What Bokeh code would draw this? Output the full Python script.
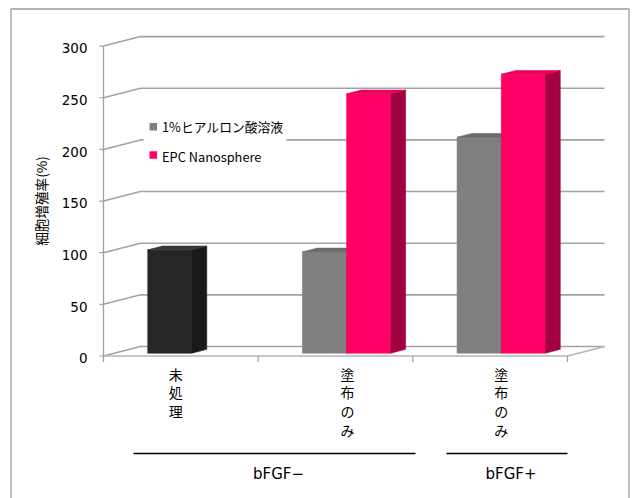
import math
from bokeh.plotting import figure
from bokeh.core.properties import value
from bokeh.embed import file_html
from bokeh.resources import INLINE

# ---------------- data ----------------
categories = ["未処理", "塗布のみ", "塗布のみ"]
groups = ["bFGF−", "bFGF+"]
series_names = ["1%ヒアルロン酸溶液", "EPC Nanosphere"]
hyaluronic = [100, 98, 209]
nanosphere = [None, 251, 270]
y_ticks = [0, 50, 100, 150, 200, 250, 300]
y_title = "細胞増殖率(%)"

# ---------------- styles ----------------
gray_front = ["#262626", "#808080", "#808080"]
gray_side = ["#1a1a1a", "#5c5c5c", "#5c5c5c"]
gray_top = ["#353535", "#6c6c6c", "#6c6c6c"]
pink_front = "#ff0066"
pink_side = "#a3003f"
pink_top = "#e8005d"
grid_color = "#a3a3a3"
JP = value("Noto Sans CJK JP")
LAT = value("DejaVu Sans")

# ---------------- layout (page pixels) ----------------
FIG_W, FIG_H = 634, 498
PAGE_X0, PAGE_Y0 = 0, 0
CAT_PX = 154.67          # px per category
VAL_PX = 1.033           # px per value unit
ORIGIN_X, ORIGIN_Y = 103.0, 355.5   # page px of (category 0, value 0)


def X(px):
    return (px - ORIGIN_X) / CAT_PX


def Y(py):
    return (ORIGIN_Y - py) / VAL_PX


DX = 37 / CAT_PX        # depth offset (category units)
DY = 9.5 / VAL_PX       # depth offset (value units)
F0, F1 = 0.3, 0.7       # bar depth span
BW = 1 / 3.5            # bar width (gap width 150%)
NCAT = len(categories)

p = figure(width=FIG_W, height=FIG_H,
           x_range=(X(PAGE_X0), X(PAGE_X0 + FIG_W)),
           y_range=(Y(PAGE_Y0 + FIG_H), Y(PAGE_Y0)),
           output_backend="svg", toolbar_location=None,
           x_axis_location=None, y_axis_location=None,
           min_border=0, outline_line_color=None,
           background_fill_color="white", border_fill_color="white")
p.xgrid.visible = False
p.ygrid.visible = False

# outer chart border
p.line([X(10.5), X(10.5), X(628.5), X(628.5)],
       [Y(500), Y(8.5), Y(8.5), Y(500)], line_color="#9c9c9c", line_width=1.3)

# back wall / side wall gridlines
gx = [[0, DX, NCAT + DX] for v in y_ticks]
gy = [[v, v + DY, v + DY] for v in y_ticks]
p.multi_line(gx, gy, line_color=grid_color, line_width=1.6)

# floor front and right edges
p.line([0, NCAT, NCAT + DX], [0, 0, DY], line_color="#b5b5b5", line_width=1.6)

# value axis line and ticks
tick_out_x = 4 / CAT_PX
tick_out_y = 6 / VAL_PX
p.line([0, 0], [y_ticks[-1], -tick_out_y], line_color="#a0a0a0", line_width=1.3)
p.multi_line([[-tick_out_x, 0] for v in y_ticks], [[v, v] for v in y_ticks],
             line_color="#a0a0a0", line_width=1.2)
# category boundary ticks
p.multi_line([[i, i] for i in range(1, NCAT + 1)],
             [[0, -tick_out_y] for i in range(1, NCAT + 1)],
             line_color="#a0a0a0", line_width=1.2)


def faces(x0, x1, v):
    a0, b0 = F0 * DX, F0 * DY
    a1, b1 = F1 * DX, F1 * DY
    front = ([x0 + a0, x1 + a0, x1 + a0, x0 + a0], [b0, b0, v + b0, v + b0])
    side = ([x1 + a0, x1 + a1, x1 + a1, x1 + a0], [b0, b1, v + b1, v + b0])
    top = ([x0 + a0, x1 + a0, x1 + a1, x0 + a1], [v + b0, v + b0, v + b1, v + b1])
    return front, side, top


xs, ys, cols = [], [], []
series = [
    (hyaluronic, gray_front, gray_side, gray_top),
    (nanosphere, [pink_front] * NCAT, [pink_side] * NCAT, [pink_top] * NCAT),
]
for k, (vals, fc, sc, tc) in enumerate(series):
    for i, v in enumerate(vals):
        if v is None:
            continue
        c = i + 0.5
        x0 = c - BW + k * BW
        x1 = x0 + BW
        fr, sd, tp = faces(x0, x1, v)
        for poly, col in ((fr, fc[i]), (sd, sc[i]), (tp, tc[i])):
            xs.append(poly[0])
            ys.append(poly[1])
            cols.append(col)

p.patches(xs=xs, ys=ys, fill_color=cols, line_color=cols, line_width=0.6)

# legend box
p.quad(left=X(143), right=X(286), top=Y(111), bottom=Y(169),
       fill_color="white", line_color=None)
p.scatter(x=[X(152.8), X(152.8)], y=[Y(126.3), Y(154.5)], marker="square",
          size=7.5, fill_color=[gray_front[1], pink_front], line_color=None)
p.text(x=[X(161.5), X(161.5)], y=[Y(126.3), Y(156.3)], text=series_names,
       text_font=JP, text_font_size=value("12.8px"), text_color="#000000",
       text_align="left", text_baseline="middle")

# value tick labels
p.text(x=[X(87)] * len(y_ticks), y=[v - 2.2 / VAL_PX for v in y_ticks],
       text=[str(v) for v in y_ticks], text_font=LAT,
       text_font_size=value("13.5px"), text_color="#000000",
       text_align="right", text_baseline="middle")

# value axis title
p.text(x=[X(40)], y=[Y(200.5)], text=[y_title], angle=math.pi / 2,
       text_font=JP, text_font_size=value("13.6px"), text_color="#000000",
       text_align="center", text_baseline="middle")

# category labels (stacked vertically)
cat_label_dx_px = [-5, 12, 11]
p.text(x=[i + 0.5 + cat_label_dx_px[i] / CAT_PX for i in range(NCAT)],
       y=[Y(363)] * NCAT,
       text=["\n".join(c) for c in categories],
       text_font=JP, text_font_size=value("14px"), text_color="#000000",
       text_align="center", text_baseline="top", text_line_height=0.94)

# group lines and labels
group_line_px = [(133, 415), (446, 567)]
p.multi_line([[X(a), X(b)] for a, b in group_line_px],
             [[Y(453), Y(453)] for _ in group_line_px],
             line_color="#000000", line_width=1.5)
p.text(x=[X((a + b) / 2 + 4) for a, b in group_line_px], y=[Y(473)] * len(groups),
       text=groups, text_font=LAT, text_font_size=value("15px"),
       text_color="#000000", text_align="center", text_baseline="middle")

open("out.html", "w").write(file_html(p, INLINE))
